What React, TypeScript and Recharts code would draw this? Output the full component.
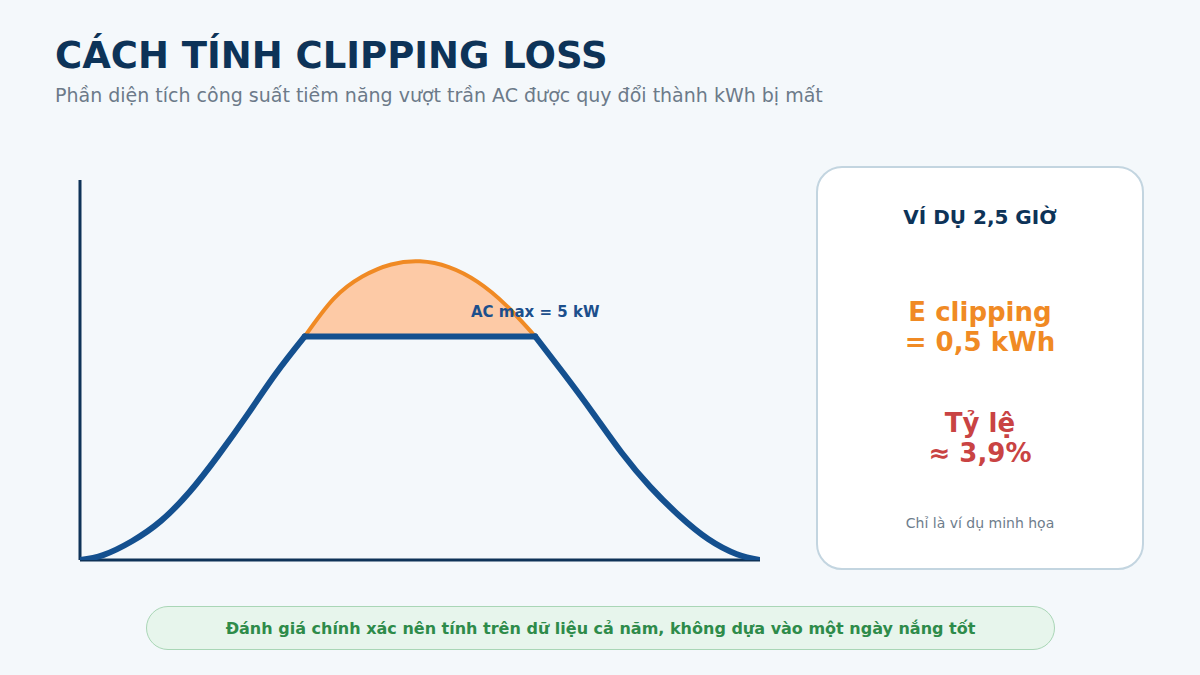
import React from 'react';
import { ComposedChart, Line, Area, XAxis, YAxis, ReferenceDot, ReferenceLine } from 'recharts';

// hours of the day
const hours = [6.1, 6.5, 7, 7.5, 8, 8.5, 9, 9.5, 10, 10.5, 11, 11.5, 12, 12.5, 13, 13.5, 14, 14.5, 15, 15.5, 16, 16.5, 17, 17.5, 17.9];
// AC output, morning ramp (kW)
const acRise: (number | null)[] = [0, 0.11, 0.42, 0.87, 1.52, 2.34, 3.24, 4.17, 5, null, null, null, null, null, null, null, null, null, null, null, null, null, null, null, null];
// AC output, clipped at the inverter ceiling (kW)
const acFlat: (number | null)[] = [null, null, null, null, null, null, null, null, 5, 5, 5, 5, 5, 5, 5, 5, 5, null, null, null, null, null, null, null, null];
// AC output, afternoon ramp (kW)
const acFall: (number | null)[] = [null, null, null, null, null, null, null, null, null, null, null, null, null, null, null, null, 5, 4.16, 3.29, 2.4, 1.63, 0.99, 0.47, 0.13, 0];
// potential DC power above AC ceiling (kW)
const potential: (number | null)[] = [null, null, null, null, null, null, null, null, 5, 5.84, 6.34, 6.61, 6.68, 6.55, 6.22, 5.69, 5.0, null, null, null, null, null, null, null, null];
const acMax = 5;

const data = hours.map((h, i) => ({
  h,
  rise: acRise[i],
  flat: acFlat[i],
  fall: acFall[i],
  pot: potential[i],
  range: potential[i] == null ? null : [acMax, potential[i]],
}));

const FONT = '"DejaVu Sans", sans-serif';
const AXIS = '#0e3358';
const BLUE = '#14508f';

export default function App() {
  return (
    <div style={{ position: 'absolute', left: 0, top: 0, width: 1200, height: 675, background: '#f4f8fb', fontFamily: FONT, overflow: 'hidden' }}>
      <div style={{ position: 'absolute', left: 55, top: 35, fontSize: 37, fontWeight: 'bold', color: '#0d3358', lineHeight: '42px', whiteSpace: 'nowrap' }}>
        CÁCH TÍNH CLIPPING LOSS
      </div>
      <div style={{ position: 'absolute', left: 55, top: 84, fontSize: 19, color: '#6c7a89', lineHeight: '22px', whiteSpace: 'nowrap' }}>
        Phần diện tích công suất tiềm năng vượt trần AC được quy đổi thành kWh bị mất
      </div>

      <div style={{ position: 'absolute', left: 0, top: 0 }}>
        <ComposedChart width={800} height={600} data={data} margin={{ top: 180, left: 80, right: 40, bottom: 40 }}>
          <XAxis dataKey="h" type="number" domain={[6.1, 17.9]} height={0} tick={false} tickLine={false} axisLine={false} allowDataOverflow />
          <YAxis type="number" domain={[0, 8.5]} width={0} tick={false} tickLine={false} axisLine={false} allowDataOverflow />
          <ReferenceLine x={6.1} stroke={AXIS} strokeWidth={3} ifOverflow="visible" />
          <ReferenceLine y={0} stroke={AXIS} strokeWidth={3} ifOverflow="visible" />
          <Area dataKey="range" type="natural" fill="#fdcaa6" fillOpacity={1} stroke="none" isAnimationActive={false} connectNulls={false} />
          <Line dataKey="pot" type="natural" stroke="#f08a24" strokeWidth={4} dot={false} isAnimationActive={false} connectNulls={false} />
          <Line dataKey="rise" type="natural" stroke={BLUE} strokeWidth={6} dot={false} isAnimationActive={false} strokeLinecap="round" />
          <Line dataKey="flat" type="linear" stroke={BLUE} strokeWidth={6} dot={false} isAnimationActive={false} strokeLinecap="round" />
          <Line dataKey="fall" type="natural" stroke={BLUE} strokeWidth={6} dot={false} isAnimationActive={false} strokeLinecap="round" />
          <ReferenceDot x={14} y={acMax} r={1} fill="none" stroke="none" label={{ value: 'AC max = 5 kW', position: 'top', offset: 18, fill: '#1c4f8c', fontSize: 15, fontWeight: 'bold', fontFamily: FONT }} />
        </ComposedChart>
      </div>

      <div style={{ position: 'absolute', left: 816, top: 166, width: 328, height: 404, boxSizing: 'border-box', background: '#ffffff', border: '2px solid #c3d5e0', borderRadius: 26 }}>
        <div style={{ position: 'absolute', left: 0, width: '100%', top: 36, textAlign: 'center', fontSize: 20, fontWeight: 'bold', color: '#0d3358', lineHeight: '26px' }}>VÍ DỤ 2,5 GIỜ</div>
        <div style={{ position: 'absolute', left: 0, width: '100%', top: 130, textAlign: 'center', fontSize: 26, fontWeight: 'bold', color: '#f08a24', lineHeight: '29.5px' }}>E clipping<br />= 0,5 kWh</div>
        <div style={{ position: 'absolute', left: 0, width: '100%', top: 241, textAlign: 'center', fontSize: 26, fontWeight: 'bold', color: '#c94343', lineHeight: '29.5px' }}>Tỷ lệ<br />≈ 3,9%</div>
        <div style={{ position: 'absolute', left: 0, width: '100%', top: 346, textAlign: 'center', fontSize: 14, color: '#6e7d8c', lineHeight: '18px' }}>Chỉ là ví dụ minh họa</div>
      </div>

      <div style={{ position: 'absolute', left: 146, top: 606, width: 909, height: 44, boxSizing: 'border-box', background: '#e7f5ec', border: '1.5px solid #a9d6b6', borderRadius: 22, display: 'flex', alignItems: 'center', justifyContent: 'center', fontSize: 16, fontWeight: 'bold', color: '#2e8b4a', whiteSpace: 'nowrap' }}>
        Đánh giá chính xác nên tính trên dữ liệu cả năm, không dựa vào một ngày nắng tốt
      </div>
    </div>
  );
}
